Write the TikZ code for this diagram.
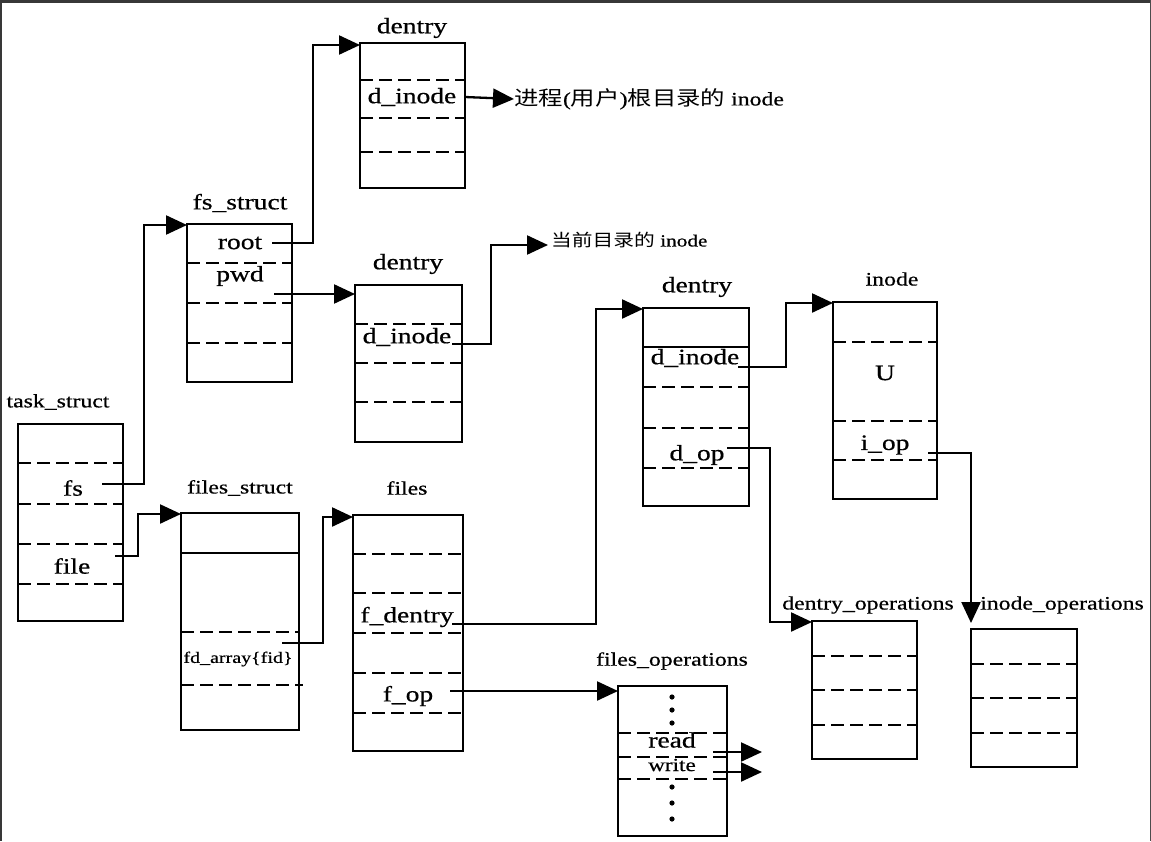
\documentclass[tikz,border=0pt]{standalone}
\usepackage{fontspec}
\setmainfont{Liberation Serif}[FakeStretch=1.25,FakeBold=0.6]
\newfontfamily\cjk{Noto Sans CJK SC}[FakeStretch=1.22]
\usetikzlibrary{arrows.meta}
\newcommand\hdash[2]{\draw[dline] (#1.west |- 0,#2) -- (#1.east |- 0,#2);}
\newcommand\hsolid[2]{\draw[sline] (#1.west |- 0,#2) -- (#1.east |- 0,#2);}
\tikzset{
  box/.style={draw, line width=2.7pt, anchor=north west, inner sep=0pt, outer sep=0pt},
  dline/.style={line width=2.5pt, dash pattern=on 13pt off 6pt},
  sline/.style={line width=2.5pt},
  conn/.style={line width=2.3pt, -{Triangle[length=21pt,width=19pt]}},
  txt/.style={inner sep=0pt},
  tA/.style={txt, font=\fontsize{22}{26}\selectfont},
  tB/.style={txt, font=\fontsize{19}{23}\selectfont},
  tC/.style={txt, font=\fontsize{16}{19}\selectfont},
  tW/.style={txt, font=\fontsize{18.5}{22}\selectfont},
}
\begin{document}
\begin{tikzpicture}[x=1pt,y=-1pt]
\useasboundingbox (0,0) rectangle (1151,841);
\fill[white] (0,0) rectangle (1151,841);
% screenshot frame
\fill[black!78] (0,0) rectangle (1151,3);
\fill[black!78] (0,0) rectangle (2,841);
\draw[black!70, line width=1pt] (1150.5,0) -- (1150.5,841);

% ---------- boxes ----------
\node[box, minimum width=105pt, minimum height=145pt] (dA) at (360,43) {};
\node[box, minimum width=105pt, minimum height=158pt] (fsb) at (187,224) {};
\node[box, minimum width=107pt, minimum height=157pt] (dB) at (355,285) {};
\node[box, minimum width=105pt, minimum height=197pt] (task) at (18,424) {};
\node[box, minimum width=118pt, minimum height=217pt] (fst) at (181,513) {};
\node[box, minimum width=110pt, minimum height=236pt] (files) at (353,515) {};
\node[box, minimum width=106pt, minimum height=198pt] (dC) at (643,308) {};
\node[box, minimum width=104pt, minimum height=197pt] (ino) at (833,302) {};
\node[box, minimum width=109pt, minimum height=150pt] (fops) at (618,686) {};
\node[box, minimum width=105pt, minimum height=138pt] (dops) at (812,621) {};
\node[box, minimum width=106pt, minimum height=138pt] (iops) at (971,629) {};

% ---------- separators ----------
\hdash{dA}{80} \hdash{dA}{118} \hdash{dA}{152}
\hdash{fsb}{263} \hdash{fsb}{303} \hdash{fsb}{343}
\hdash{dB}{324} \hdash{dB}{363} \hdash{dB}{402}
\hdash{task}{463} \hdash{task}{504} \hdash{task}{544} \hdash{task}{584}
\hsolid{fst}{553} \hdash{fst}{632}
\draw[dline] (fst.west |- 0,685) -- (303,685);
\hdash{files}{554} \hdash{files}{593} \hdash{files}{633} \hdash{files}{673} \hdash{files}{713}
\hsolid{dC}{347} \hdash{dC}{387} \hdash{dC}{428} \hdash{dC}{468}
\hdash{ino}{342} \hdash{ino}{421} \hdash{ino}{460}
\hdash{fops}{733} \hdash{fops}{757} \hdash{fops}{779}
\hdash{dops}{656} \hdash{dops}{690} \hdash{dops}{725}
\hdash{iops}{664} \hdash{iops}{698} \hdash{iops}{733}

% ---------- titles ----------
\node[tA] (ldA) at (412,28) {dentry};
\node[tA] (lfs) at (240,203) {fs\_struct};
\node[tA] (ldB) at (408,264) {dentry};
\node[tB] (ltask) at (58,402) {task\_struct};
\node[tB] (lfst) at (240,488) {files\_struct};
\node[tB] (lfiles) at (407,488) {files};
\node[tA] (ldC) at (697,287) {dentry};
\node[tB] (lino) at (892,279) {inode};
\node[tB] (ldops) at (868,605) {dentry\_operations};
\node[tB] (liops) at (1062,605) {inode\_operations};
\node[tB] (lfops) at (672,661) {files\_operations};

% ---------- fields ----------
\node[tA] (dAi) at (412,97) {d\_inode};
\node[tA] (root) at (240,243) {root};
\node[tA] (pwd) at (240,276) {pwd};
\node[tA] (dBi) at (407,337) {d\_inode};
\node[tA] (fs) at (73,488) {fs};
\node[tA] (file) at (72,566) {file};
\node[tC] (fda) at (238,659) {fd\_array\{fid\}};
\node[tA] (fde) at (407,617) {f\_dentry};
\node[tA] (fop) at (408,696) {f\_op};
\node[tA] (dCi) at (695,358) {d\_inode};
\node[tA] (dop) at (697,455) {d\_op};
\node[tA] (U) at (885,373) {U};
\node[tA] (iop) at (885,445) {i\_op};
\node[tA] (rd) at (672,740) {read};
\node[tW] (wr) at (672,765) {write};

\foreach \yy in {697,710,723,787,803,819} \fill (672,\yy) circle (2.6pt);

% ---------- free texts ----------
\node[anchor=west, inner sep=0pt, font=\fontsize{19}{23}\selectfont] (rootp) at (514,99)
  {{\cjk\fontsize{20}{24}\selectfont 进程}({\cjk\fontsize{20}{24}\selectfont 用户}){\cjk\fontsize{20}{24}\selectfont 根目录的} inode};
\node[anchor=west, inner sep=0pt, font=\fontsize{17}{20}\selectfont] (cur) at (551,240)
  {{\cjk\fontsize{17}{20}\selectfont 当前目录的} inode};
\coordinate (rdend) at (762,752);
\coordinate (wrend) at (762,772);

% ---------- connectors ----------
\draw[conn] ([xshift=32pt]root.center) -| (313,45) -- ([yshift=-2pt]dA.north west);
\draw[conn] ([xshift=34pt,yshift=-18pt]pwd.center) -- ([yshift=-9pt]dB.north west);
\draw[conn] ([xshift=45pt,yshift=-7pt]dBi.center) -| (491,245) -- ([xshift=-3pt,yshift=-5pt]cur.west);
\draw[conn] (dA.east |- dAi.center) -- (rootp.west);
\draw[conn] ([xshift=29pt,yshift=4pt]fs.center) -| (144,225) -- ([yshift=-1pt]fsb.north west);
\draw[conn] ([xshift=43pt,yshift=10pt]file.center) -| (138,514) -- ([yshift=-1pt]fst.north west);
\draw[conn] ([xshift=44pt,yshift=16pt]fda.center) -| (323,517) -- ([yshift=-2pt]files.north west);
\draw[conn] ([xshift=45pt,yshift=-7pt]fde.center) -| (596,309) -- ([yshift=-1pt]dC.north west);
\draw[conn] ([xshift=42pt,yshift=5pt]fop.center) -- ([yshift=-5pt]fops.north west);
\draw[conn] ([xshift=43pt,yshift=-9pt]dCi.center) -| (786,303) -- ([yshift=-1pt]ino.north west);
\draw[conn] ([xshift=30pt,yshift=7pt]dop.center) -| (770,622) -- ([yshift=-1pt]dops.north west);
\draw[conn] ([xshift=43pt,yshift=-8pt]iop.center) -| ([yshift=6pt]iops.north west);
\draw[conn] ([xshift=41pt,yshift=-12pt]rd.center) -- (rdend);
\draw[conn] ([xshift=41pt,yshift=-7pt]wr.center) -- (wrend);
\end{tikzpicture}
\end{document}
